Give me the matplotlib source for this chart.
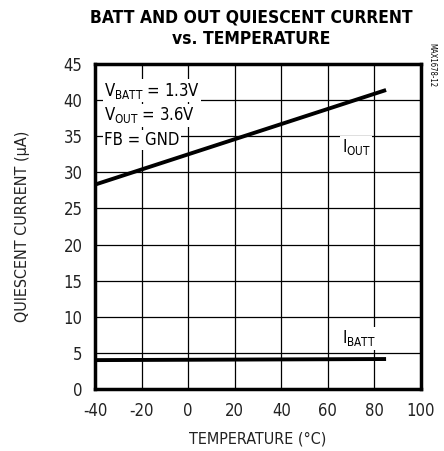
import matplotlib
matplotlib.use("Agg")
import matplotlib.pyplot as plt

plt.rcParams['font.family'] = ['DejaVu Sans']
plt.rcParams['font.stretch'] = 'condensed'
plt.rcParams['axes.unicode_minus'] = False

temp = [-40, 85]
i_out = [28.3, 41.4]
i_batt = [4.0, 4.15]

fig = plt.figure(figsize=(4.44, 4.51), dpi=100)
ax = fig.add_axes([95/444, 1 - 389/451, 326/444, 325/451])

ax.plot(temp, i_out, color='black', lw=2.8, solid_capstyle='butt')
ax.plot(temp, i_batt, color='black', lw=2.8, solid_capstyle='butt')

ax.set_xlim(-40, 100)
ax.set_ylim(0, 45)
ax.set_xticks(range(-40, 101, 20))
ax.set_yticks(range(0, 46, 5))
ax.grid(True, color='black', lw=0.9)
ax.tick_params(length=0, labelsize=12, pad=9, labelcolor='#222222')
for s in ax.spines.values():
    s.set_linewidth(2.5)

ax.set_xlabel('TEMPERATURE (°C)', fontsize=11.5, labelpad=9, color='#222222')
ax.set_ylabel('QUIESCENT CURRENT (µA)', fontsize=11.5, labelpad=24, color='#222222')
fig.text(0.565, 0.982, 'BATT AND OUT QUIESCENT CURRENT\nvs. TEMPERATURE',
         ha='center', va='top', fontsize=12.5, fontweight='bold', linespacing=1.25)

box = dict(facecolor='white', edgecolor='none', pad=1)
ax.text(-36, 41.3, r'V$_{\mathregular{BATT}}$ = 1.3V', fontsize=12, va='center', bbox=box)
ax.text(-36, 37.9, r'V$_{\mathregular{OUT}}$ = 3.6V', fontsize=12, va='center', bbox=box)
ax.text(-36, 34.5, 'FB = GND', fontsize=12, va='center', bbox=box)
ax.text(66, 33.5, r'I$_{\mathregular{OUT}}$', fontsize=12, va='center', bbox=box)
ax.text(66, 7.0, r'I$_{\mathregular{BATT}}$', fontsize=12, va='center', bbox=box)

fig.text(0.972, 0.855, 'MAX1678-12', rotation=270, fontsize=5.5, ha='center', va='center')

plt.savefig('out.png', dpi=100)
